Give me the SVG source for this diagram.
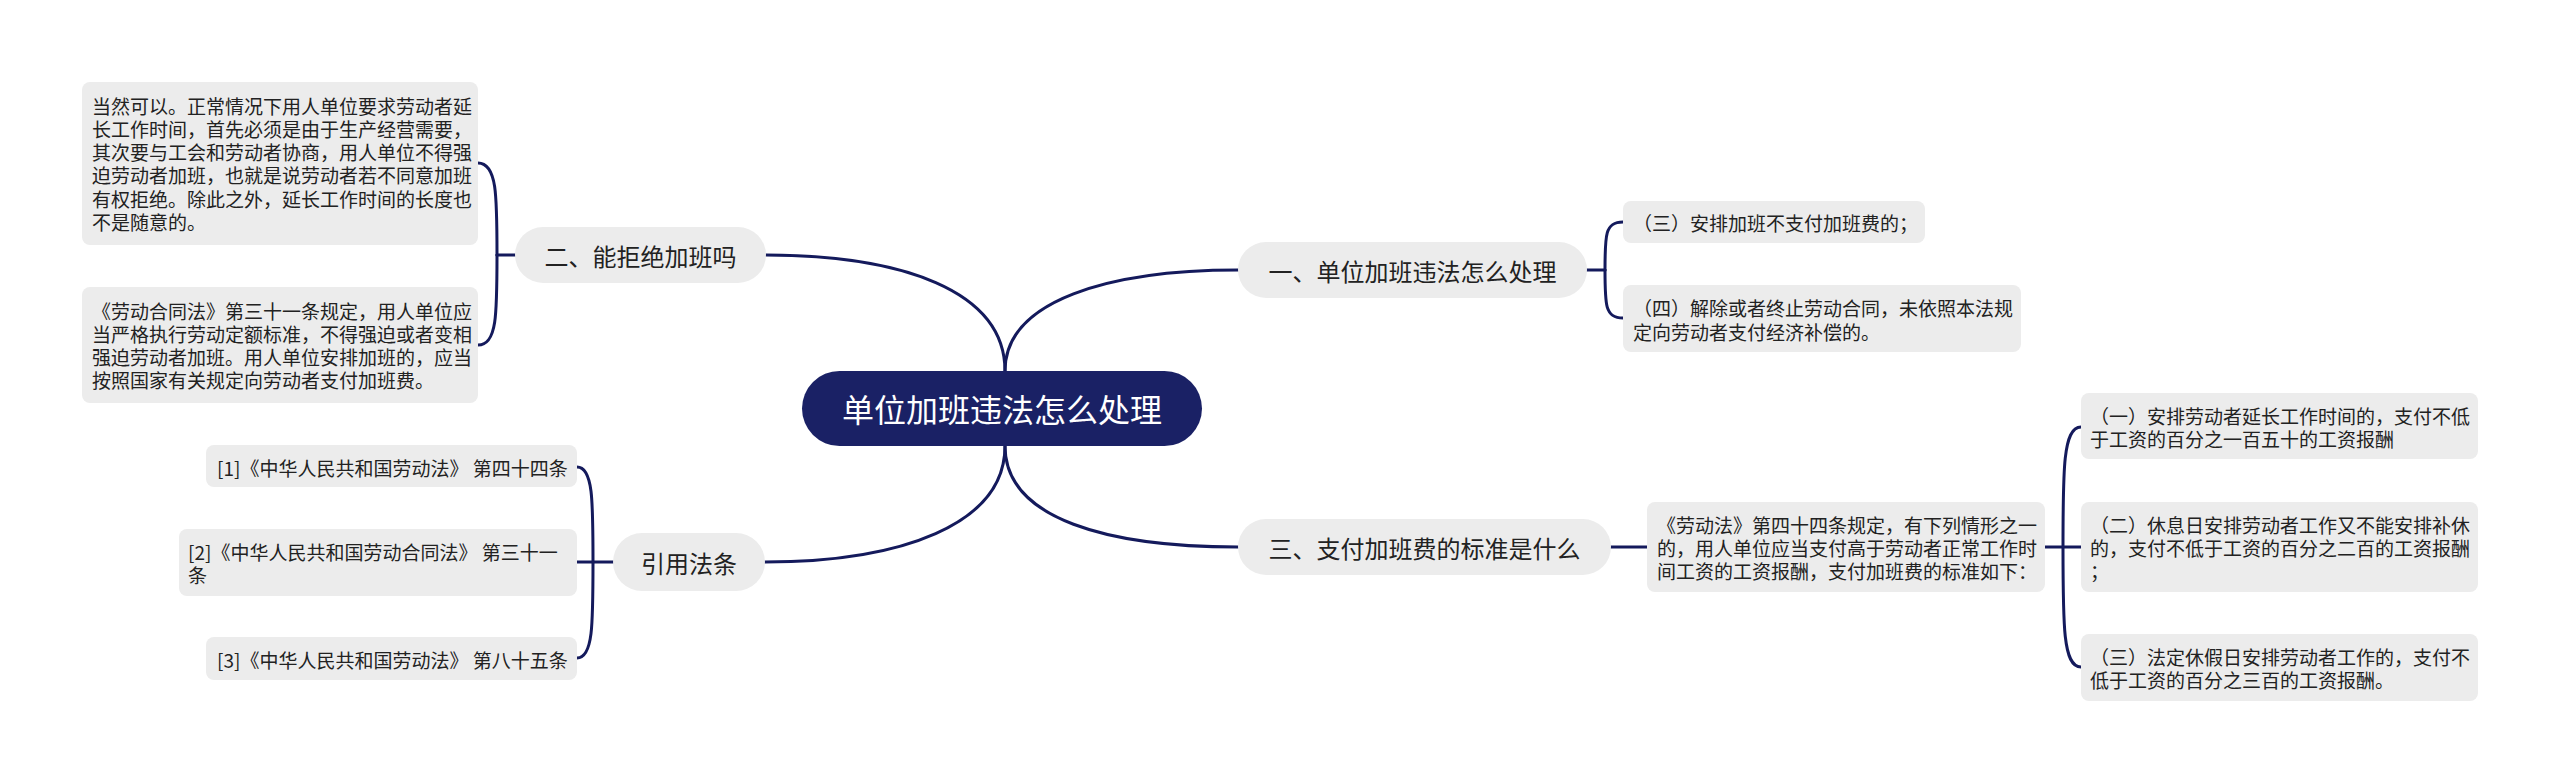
<svg xmlns="http://www.w3.org/2000/svg" width="2560" height="783" viewBox="0 0 2560 783">
<style>
.bg{fill:#ffffff}
.lk{fill:none;stroke:#141a5c;stroke-width:3;stroke-linecap:round}
.root{fill:#1a2165}
.rt{fill:#ffffff;font-family:"Noto Sans CJK SC","Noto Sans",sans-serif;font-size:32px;text-anchor:middle;dominant-baseline:central}
.l1{fill:#ececec}
.t1{fill:#222222;font-family:"Noto Sans CJK SC","Noto Sans",sans-serif;font-size:24px;text-anchor:middle;dominant-baseline:central}
.lf{fill:#ececec}
.t2{fill:#222222;font-family:"Noto Sans CJK SC","Noto Sans",sans-serif;font-size:19px;dominant-baseline:central}
</style>
<rect class="bg" x="0" y="0" width="2560" height="783"/>
<g id="connectors">
<path class="lk" d="M1005,371 C1005,300 1110,270 1238,270"/>
<path class="lk" d="M1005,371 C1005,290 900,255 766,255"/>
<path class="lk" d="M1005,446 C1005,520 1110,547 1238,547"/>
<path class="lk" d="M1005,446 C1005,525 900,562 765,562"/>
<path class="lk" d="M1587,270 L1605,270"/>
<path class="lk" d="M1605,270 C1605,235 1605,222 1623,222"/>
<path class="lk" d="M1605,270 C1605,305 1605,318 1623,318"/>
<path class="lk" d="M515,255 L497,255"/>
<path class="lk" d="M497,255 C497,195 497,163 478,163"/>
<path class="lk" d="M497,255 C497,315 497,345 478,345"/>
<path class="lk" d="M613,562 L577,562"/>
<path class="lk" d="M593,562 C593,500 593,467 577,467"/>
<path class="lk" d="M593,562 C593,625 593,658 577,658"/>
<path class="lk" d="M1611,547 L1647,547"/>
<path class="lk" d="M2045,547 L2081,547"/>
<path class="lk" d="M2063,547 C2063,470 2063,427 2081,427"/>
<path class="lk" d="M2063,547 C2063,625 2063,667 2081,667"/>
</g>
<g id="root">
<rect class="root" x="802" y="371" width="400" height="75" rx="37.5"/>
<text class="rt" x="1002" y="408">单位加班违法怎么处理</text>
</g>
<g id="n1">
<rect class="l1" x="1238" y="242" width="349" height="56" rx="28"/>
<text class="t1" x="1412.5" y="270">一、单位加班违法怎么处理</text>
</g>
<g id="n1a">
<rect class="lf" x="1623" y="201" width="302" height="42" rx="8"/>
<text class="t2" x="1633" y="222">（三）安排加班不支付加班费的；</text>
</g>
<g id="n1b">
<rect class="lf" x="1623" y="285" width="398" height="67" rx="8"/>
<text class="t2" x="1633" y="307">（四）解除或者终止劳动合同，未依照本法规</text>
<text class="t2" x="1633" y="331">定向劳动者支付经济补偿的。</text>
</g>
<g id="n2">
<rect class="l1" x="515" y="227" width="251" height="56" rx="28"/>
<text class="t1" x="640.5" y="255">二、能拒绝加班吗</text>
</g>
<g id="n2a">
<rect class="lf" x="82" y="82" width="396" height="163" rx="8"/>
<text class="t2" x="92" y="105">当然可以。正常情况下用人单位要求劳动者延</text>
<text class="t2" x="92" y="128.3">长工作时间，首先必须是由于生产经营需要，</text>
<text class="t2" x="92" y="151.6">其次要与工会和劳动者协商，用人单位不得强</text>
<text class="t2" x="92" y="174.9">迫劳动者加班，也就是说劳动者若不同意加班</text>
<text class="t2" x="92" y="198.2">有权拒绝。除此之外，延长工作时间的长度也</text>
<text class="t2" x="92" y="221.5">不是随意的。</text>
</g>
<g id="n2b">
<rect class="lf" x="82" y="287" width="396" height="116" rx="8"/>
<text class="t2" x="92" y="310">《劳动合同法》第三十一条规定，用人单位应</text>
<text class="t2" x="92" y="333.3">当严格执行劳动定额标准，不得强迫或者变相</text>
<text class="t2" x="92" y="356.6">强迫劳动者加班。用人单位安排加班的，应当</text>
<text class="t2" x="92" y="379.9">按照国家有关规定向劳动者支付加班费。</text>
</g>
<g id="n3">
<rect class="l1" x="1238" y="519" width="373" height="56" rx="28"/>
<text class="t1" x="1424.5" y="547">三、支付加班费的标准是什么</text>
</g>
<g id="n3a">
<rect class="lf" x="1647" y="502" width="398" height="90" rx="8"/>
<text class="t2" x="1657" y="524">《劳动法》第四十四条规定，有下列情形之一</text>
<text class="t2" x="1657" y="547.3">的，用人单位应当支付高于劳动者正常工作时</text>
<text class="t2" x="1657" y="570.6">间工资的工资报酬，支付加班费的标准如下：</text>
</g>
<g id="n3b">
<rect class="lf" x="2081" y="393" width="397" height="66" rx="8"/>
<text class="t2" x="2090" y="415">（一）安排劳动者延长工作时间的，支付不低</text>
<text class="t2" x="2090" y="438.3">于工资的百分之一百五十的工资报酬</text>
</g>
<g id="n3c">
<rect class="lf" x="2081" y="502" width="397" height="90" rx="8"/>
<text class="t2" x="2090" y="524">（二）休息日安排劳动者工作又不能安排补休</text>
<text class="t2" x="2090" y="547.3">的，支付不低于工资的百分之二百的工资报酬</text>
<text class="t2" x="2090" y="570.6">；</text>
</g>
<g id="n3d">
<rect class="lf" x="2081" y="634" width="397" height="67" rx="8"/>
<text class="t2" x="2090" y="656">（三）法定休假日安排劳动者工作的，支付不</text>
<text class="t2" x="2090" y="679.3">低于工资的百分之三百的工资报酬。</text>
</g>
<g id="n4">
<rect class="l1" x="613" y="533" width="152" height="58" rx="29"/>
<text class="t1" x="689" y="562">引用法条</text>
</g>
<g id="n4a">
<rect class="lf" x="206" y="445" width="371" height="42" rx="8"/>
<text class="t2" x="217" y="467">[1]《中华人民共和国劳动法》 第四十四条</text>
</g>
<g id="n4b">
<rect class="lf" x="179" y="529" width="398" height="67" rx="8"/>
<text class="t2" x="188" y="551">[2]《中华人民共和国劳动合同法》 第三十一</text>
<text class="t2" x="188" y="574.3">条</text>
</g>
<g id="n4c">
<rect class="lf" x="206" y="637" width="371" height="43" rx="8"/>
<text class="t2" x="217" y="659">[3]《中华人民共和国劳动法》 第八十五条</text>
</g>
</svg>
